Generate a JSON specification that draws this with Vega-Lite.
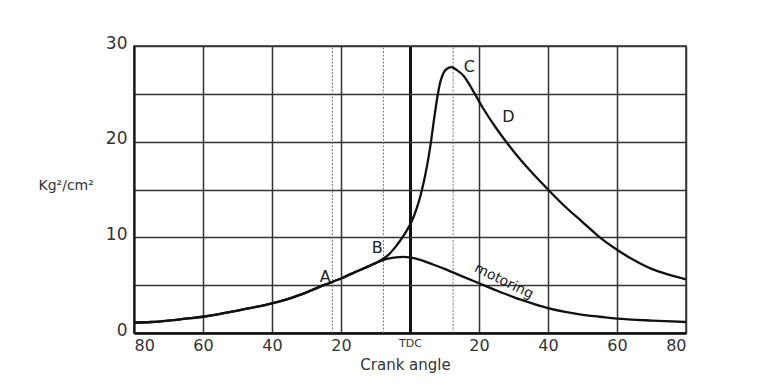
{
  "$schema": "https://vega.github.io/schema/vega-lite/v6.json",
  "width": 552,
  "height": 287,
  "autosize": {"type": "none"},
  "padding": {"left": 134, "top": 46, "right": 78, "bottom": 57},
  "background": "white",
  "config": {
    "view": {"stroke": "#333", "strokeWidth": 1.5},
    "font": "DejaVu Sans"
  },
  "datasets": {
    "curves": [
      {"series": "firing", "angle": -80, "p": 1.1},
      {"series": "firing", "angle": -75, "p": 1.15},
      {"series": "firing", "angle": -70, "p": 1.3},
      {"series": "firing", "angle": -65, "p": 1.5},
      {"series": "firing", "angle": -60, "p": 1.7},
      {"series": "firing", "angle": -55, "p": 2.0},
      {"series": "firing", "angle": -50, "p": 2.35},
      {"series": "firing", "angle": -45, "p": 2.7},
      {"series": "firing", "angle": -40, "p": 3.1},
      {"series": "firing", "angle": -35, "p": 3.6},
      {"series": "firing", "angle": -30, "p": 4.25},
      {"series": "firing", "angle": -25, "p": 5.0},
      {"series": "firing", "angle": -20, "p": 5.7},
      {"series": "firing", "angle": -15, "p": 6.5},
      {"series": "firing", "angle": -10, "p": 7.3},
      {"series": "firing", "angle": -8, "p": 7.7},
      {"series": "firing", "angle": -6, "p": 8.25},
      {"series": "firing", "angle": -4, "p": 9.1},
      {"series": "firing", "angle": -2, "p": 10.1},
      {"series": "firing", "angle": 0, "p": 11.3},
      {"series": "firing", "angle": 1, "p": 12.1},
      {"series": "firing", "angle": 2, "p": 13.1},
      {"series": "firing", "angle": 3, "p": 14.3},
      {"series": "firing", "angle": 4, "p": 15.8},
      {"series": "firing", "angle": 5, "p": 17.6},
      {"series": "firing", "angle": 6, "p": 19.8},
      {"series": "firing", "angle": 7, "p": 22.4},
      {"series": "firing", "angle": 8, "p": 24.8},
      {"series": "firing", "angle": 9, "p": 26.5},
      {"series": "firing", "angle": 10.3, "p": 27.5},
      {"series": "firing", "angle": 12, "p": 27.8},
      {"series": "firing", "angle": 13.5, "p": 27.5},
      {"series": "firing", "angle": 15.5, "p": 26.9},
      {"series": "firing", "angle": 18, "p": 25.5},
      {"series": "firing", "angle": 21, "p": 23.6},
      {"series": "firing", "angle": 25, "p": 21.4},
      {"series": "firing", "angle": 30, "p": 19.0},
      {"series": "firing", "angle": 35, "p": 16.9},
      {"series": "firing", "angle": 40, "p": 15.0},
      {"series": "firing", "angle": 45, "p": 13.2},
      {"series": "firing", "angle": 50, "p": 11.6},
      {"series": "firing", "angle": 55, "p": 10.0},
      {"series": "firing", "angle": 60, "p": 8.7},
      {"series": "firing", "angle": 65, "p": 7.6},
      {"series": "firing", "angle": 70, "p": 6.7},
      {"series": "firing", "angle": 75, "p": 6.1},
      {"series": "firing", "angle": 80, "p": 5.6},
      {"series": "motoring", "angle": -80, "p": 1.1},
      {"series": "motoring", "angle": -75, "p": 1.15},
      {"series": "motoring", "angle": -70, "p": 1.3},
      {"series": "motoring", "angle": -65, "p": 1.5},
      {"series": "motoring", "angle": -60, "p": 1.7},
      {"series": "motoring", "angle": -55, "p": 2.0},
      {"series": "motoring", "angle": -50, "p": 2.35},
      {"series": "motoring", "angle": -45, "p": 2.7},
      {"series": "motoring", "angle": -40, "p": 3.1},
      {"series": "motoring", "angle": -35, "p": 3.6},
      {"series": "motoring", "angle": -30, "p": 4.25},
      {"series": "motoring", "angle": -25, "p": 5.0},
      {"series": "motoring", "angle": -20, "p": 5.7},
      {"series": "motoring", "angle": -15, "p": 6.5},
      {"series": "motoring", "angle": -10, "p": 7.3},
      {"series": "motoring", "angle": -8, "p": 7.6},
      {"series": "motoring", "angle": -6, "p": 7.8},
      {"series": "motoring", "angle": -4, "p": 7.9},
      {"series": "motoring", "angle": -2, "p": 7.95},
      {"series": "motoring", "angle": 0, "p": 7.9},
      {"series": "motoring", "angle": 3, "p": 7.65},
      {"series": "motoring", "angle": 6, "p": 7.25},
      {"series": "motoring", "angle": 10, "p": 6.7},
      {"series": "motoring", "angle": 15, "p": 5.95},
      {"series": "motoring", "angle": 20, "p": 5.2},
      {"series": "motoring", "angle": 25, "p": 4.45},
      {"series": "motoring", "angle": 30, "p": 3.75},
      {"series": "motoring", "angle": 35, "p": 3.15},
      {"series": "motoring", "angle": 40, "p": 2.6},
      {"series": "motoring", "angle": 45, "p": 2.2},
      {"series": "motoring", "angle": 50, "p": 1.9},
      {"series": "motoring", "angle": 55, "p": 1.7},
      {"series": "motoring", "angle": 60, "p": 1.5},
      {"series": "motoring", "angle": 70, "p": 1.3},
      {"series": "motoring", "angle": 80, "p": 1.15}
    ],
    "marks": [
      {"angle": -22.5},
      {"angle": -7.7},
      {"angle": 12.5}
    ],
    "letters": [
      {"angle": -24.6, "p": 5.9, "label": "A"},
      {"angle": -9.5, "p": 8.9, "label": "B"},
      {"angle": 17.2, "p": 27.8, "label": "C"},
      {"angle": 28.5, "p": 22.6, "label": "D"}
    ],
    "motorlabel": [
      {"angle": 27.2, "p": 5.4, "label": "motoring"}
    ]
  },
  "layer": [
    {
      "data": {"name": "marks"},
      "mark": {"type": "rule", "color": "#777", "strokeWidth": 1, "strokeDash": [2, 1.5]},
      "encoding": {
        "x": {"field": "angle", "type": "quantitative", "scale": {"domain": [-80, 80]},
          "axis": {
            "values": [-80, -60, -40, -20, 0, 20, 40, 60, 80],
            "labelExpr": "datum.value == 0 ? 'TDC' : '' + abs(datum.value)",
            "labelFontSize": {"condition": {"test": "datum.value == 0", "value": 11}, "value": 16},
            "labelColor": "#333",
            "labelPadding": 4,
            "ticks": false,
            "grid": true,
            "gridColor": {"condition": {"test": "datum.value == 0", "value": "#111"}, "value": "#333"},
            "gridWidth": {"condition": {"test": "datum.value == 0", "value": 3}, "value": 1.5},
            "domainColor": "#111",
            "domainWidth": 2.5,
            "title": "Crank angle",
            "titleFontSize": 15,
            "titleFontWeight": "normal",
            "titleColor": "#333",
            "titleX": 271,
            "titleY": 31,
            "titleBaseline": "middle"
          }
        },
        "y": {"datum": 0, "type": "quantitative"},
        "y2": {"datum": 30}
      }
    },
    {
      "data": {"name": "curves"},
      "mark": {"type": "line", "color": "#111", "strokeWidth": 2.3, "interpolate": "catmull-rom"},
      "encoding": {
        "x": {"field": "angle", "type": "quantitative"},
        "y": {"field": "p", "type": "quantitative", "scale": {"domain": [0, 30]},
          "axis": {
            "values": [0, 5, 10, 15, 20, 25, 30],
            "labelExpr": "datum.value % 10 == 0 ? datum.label : ''",
            "labelFontSize": 17,
            "labelColor": "#333",
            "labelPadding": 7,
            "labelOffset": -3,
            "ticks": false,
            "grid": true,
            "gridColor": "#333",
            "gridWidth": 1.5,
            "domainColor": "#111",
            "domainWidth": 2,
            "title": "Kg²/cm²",
            "titleAngle": 0,
            "titleAlign": "left",
            "titleBaseline": "middle",
            "titleX": -96,
            "titleY": 139,
            "titleFontSize": 14,
            "titleFontWeight": "normal",
            "titleColor": "#333"
          }
        },
        "detail": {"field": "series"}
      }
    },
    {
      "data": {"name": "letters"},
      "mark": {"type": "text", "fontSize": 16, "color": "#222", "align": "center", "baseline": "middle"},
      "encoding": {
        "x": {"field": "angle", "type": "quantitative"},
        "y": {"field": "p", "type": "quantitative"},
        "text": {"field": "label"}
      }
    },
    {
      "data": {"name": "motorlabel"},
      "mark": {"type": "text", "fontSize": 14, "color": "#222", "align": "center", "baseline": "middle", "angle": 26},
      "encoding": {
        "x": {"field": "angle", "type": "quantitative"},
        "y": {"field": "p", "type": "quantitative"},
        "text": {"field": "label"}
      }
    }
  ]
}
